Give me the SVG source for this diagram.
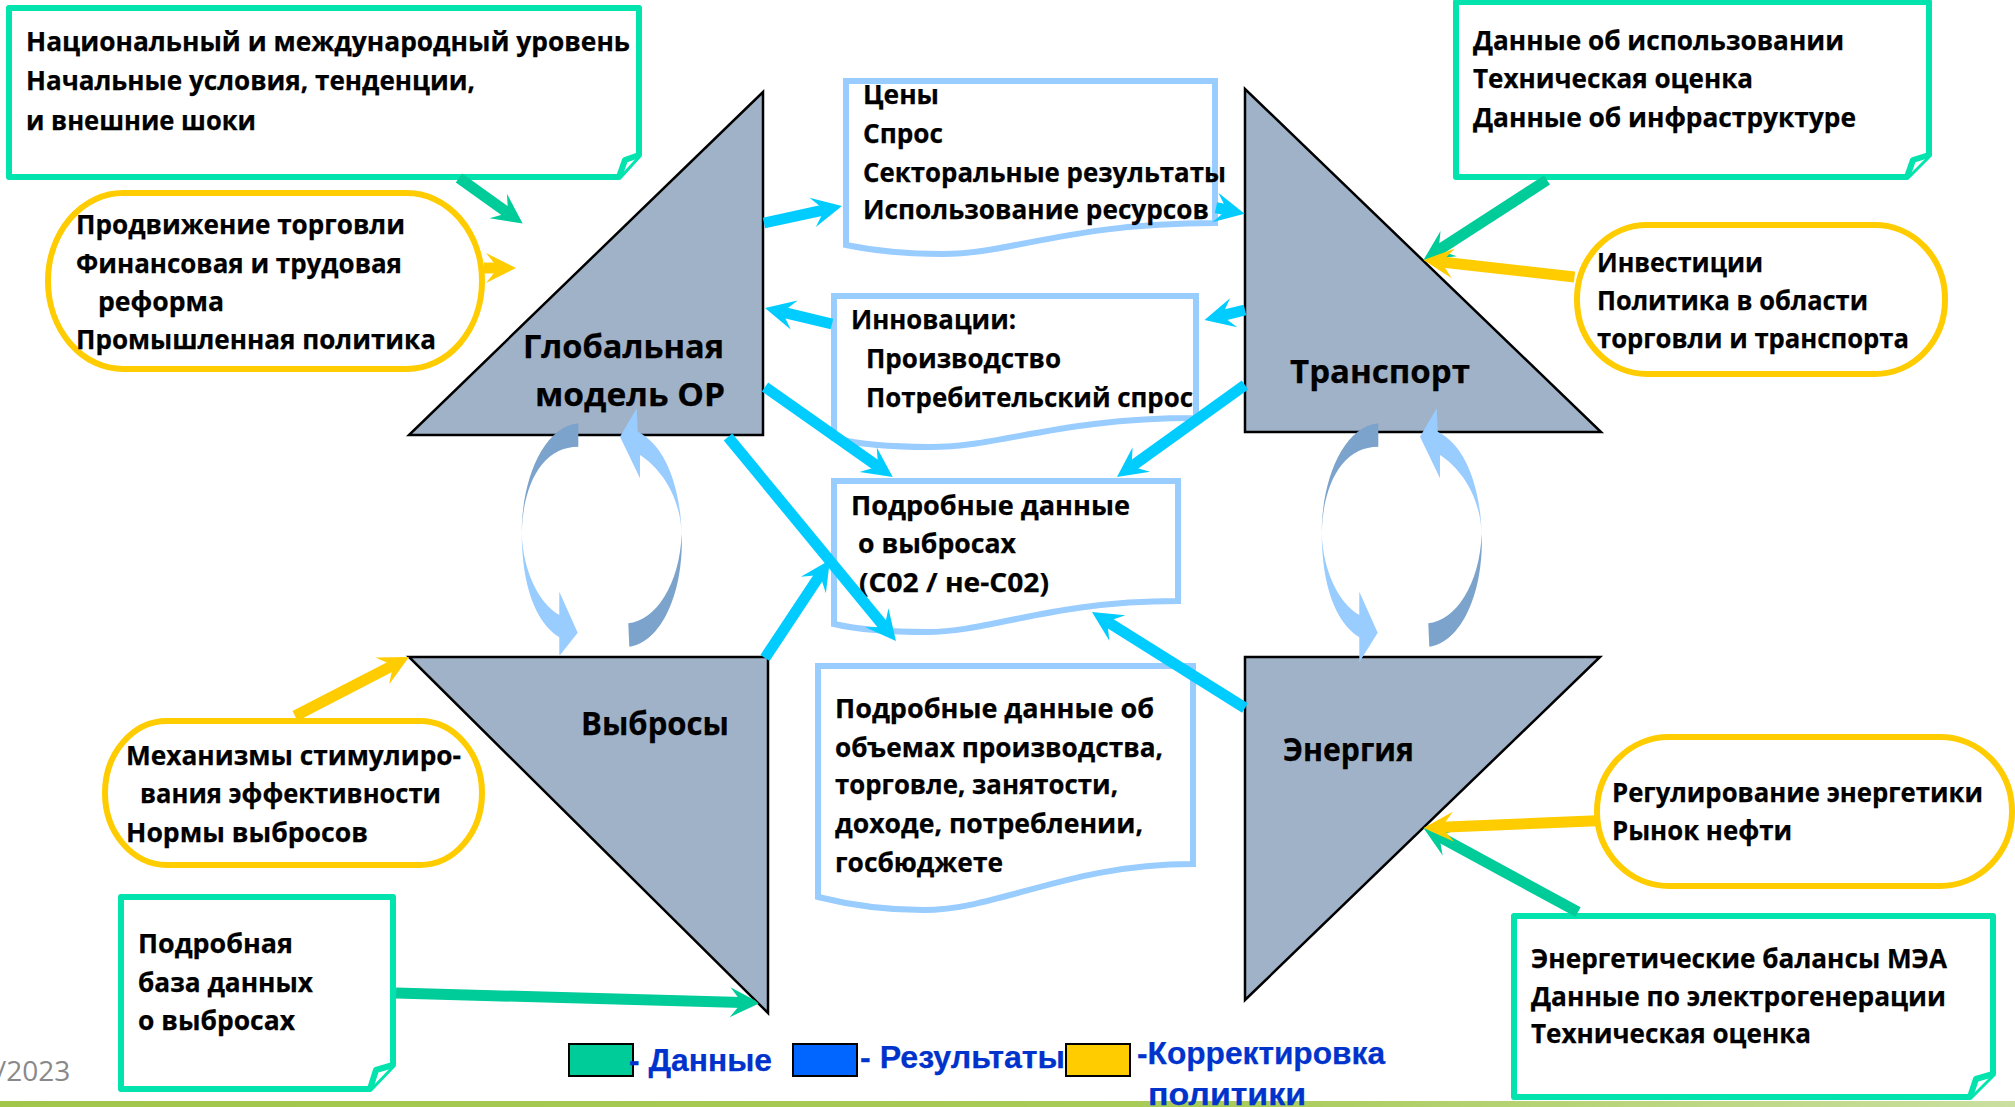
<svg xmlns="http://www.w3.org/2000/svg" width="2015" height="1107" viewBox="0 0 2015 1107">
<style>
text{font-family:"Open Sans","Noto Sans",sans-serif;font-weight:700;fill:#000;stroke:#000;stroke-width:.25}
.t{font-size:27px}
.h{font-size:32px}
.lg{font-family:"Liberation Sans",Arial,sans-serif;font-size:32px;fill:#0033CC;stroke:#0033CC}
.date{font-family:"Open Sans",sans-serif;font-weight:400;font-size:28px;fill:#898989;stroke:none}
.tri{fill:#A0B2C8;stroke:#000;stroke-width:2.5}
.gb{fill:#fff;stroke:#02E3AD;stroke-width:6;stroke-linejoin:round}
.yo{fill:#fff;stroke:#FFCC00;stroke-width:6}
.doc{fill:#fff;stroke:#99CCFF;stroke-width:6}
.a{fill:none;stroke-width:11}
.g{stroke:#00CC99}.y{stroke:#FFCC00}.c{stroke:#00CCFF}
.lt{fill:#99CCFF}.dk{fill:#7BA3CC}
</style>
<defs>
<marker id="mg" markerUnits="userSpaceOnUse" markerWidth="30" markerHeight="30" refX="12" refY="15" orient="auto" overflow="visible"><path d="M30,15 L0,0 L12,15 L0,30 Z" fill="#00CC99"/></marker>
<marker id="my" markerUnits="userSpaceOnUse" markerWidth="30" markerHeight="30" refX="12" refY="15" orient="auto" overflow="visible"><path d="M30,15 L0,0 L12,15 L0,30 Z" fill="#FFCC00"/></marker>
<marker id="mc" markerUnits="userSpaceOnUse" markerWidth="30" markerHeight="30" refX="12" refY="15" orient="auto" overflow="visible"><path d="M30,15 L0,0 L12,15 L0,30 Z" fill="#00CCFF"/></marker>
<linearGradient id="bar" x1="0" x2="1" y1="0" y2="0"><stop offset="0" stop-color="#A2C64A"/><stop offset="0.6" stop-color="#A9CB58"/><stop offset="1" stop-color="#CADFA0"/></linearGradient>
<clipPath id="leftOfEdge"><polygon points="300,900 654,900 768,1013 768,1040 300,1040"/></clipPath>
</defs>

<text class="date" x="-4" y="1081">/2023</text>
<rect x="0" y="1101" width="2015" height="6" fill="url(#bar)"/>

<g id="node-global"><polygon class="tri" points="763,92 763,435 409,435"/><text class="h" x="523" y="358" textLength="201" lengthAdjust="spacingAndGlyphs">Глобальная</text><text class="h" x="535" y="406" textLength="190" lengthAdjust="spacingAndGlyphs">модель ОР</text></g>
<g id="node-transport"><polygon class="tri" points="1245,89 1245,432 1601,432"/><text class="h" x="1290" y="383" textLength="180" lengthAdjust="spacingAndGlyphs">Транспорт</text></g>
<g id="node-emissions"><polygon class="tri" points="409,657 768,657 768,1013"/><text class="h" x="581" y="735" textLength="148" lengthAdjust="spacingAndGlyphs">Выбросы</text></g>
<g id="node-energy"><polygon class="tri" points="1245,657 1600,657 1245,1000"/><text class="h" x="1283" y="761" textLength="131" lengthAdjust="spacingAndGlyphs">Энергия</text></g>

<g id="box-national"><path class="gb" d="M9,8 H639 V155 L619,177 H9 Z"/><path class="gb" d="M619,177 L625,160 L639,155" fill="none"/>
<text class="t" x="26" y="51" textLength="604" lengthAdjust="spacingAndGlyphs">Национальный и международный уровень</text><text class="t" x="26" y="90" textLength="449" lengthAdjust="spacingAndGlyphs">Начальные условия, тенденции,</text><text class="t" x="26" y="130" textLength="230" lengthAdjust="spacingAndGlyphs">и внешние шоки</text></g>
<g id="box-usage"><path class="gb" d="M1456,2 H1929 V155 L1907,177 H1456 Z"/><path class="gb" d="M1907,177 L1913,160 L1929,155" fill="none"/>
<text class="t" x="1473" y="50" textLength="371" lengthAdjust="spacingAndGlyphs">Данные об использовании</text><text class="t" x="1473" y="88" textLength="280" lengthAdjust="spacingAndGlyphs">Техническая оценка</text><text class="t" x="1473" y="127" textLength="383" lengthAdjust="spacingAndGlyphs">Данные об инфраструктуре</text></g>
<g id="box-emdb"><path class="gb" d="M121,897 H393 V1065 L370,1089 H121 Z"/><path class="gb" d="M370,1089 L376,1070 L393,1065" fill="none"/>
<text class="t" x="138" y="953" textLength="155" lengthAdjust="spacingAndGlyphs">Подробная</text><text class="t" x="138" y="992" textLength="175" lengthAdjust="spacingAndGlyphs">база данных</text><text class="t" x="138" y="1030" textLength="157" lengthAdjust="spacingAndGlyphs">о выбросах</text></g>
<g id="box-energy-data"><path class="gb" d="M1514,916 H1993 V1074 L1970,1097 H1514 Z"/><path class="gb" d="M1970,1097 L1976,1079 L1993,1074" fill="none"/>
<text class="t" x="1531" y="968" textLength="416" lengthAdjust="spacingAndGlyphs">Энергетические балансы МЭА</text><text class="t" x="1531" y="1006" textLength="415" lengthAdjust="spacingAndGlyphs">Данные по электрогенерации</text><text class="t" x="1531" y="1043" textLength="280" lengthAdjust="spacingAndGlyphs">Техническая оценка</text></g>

<g id="oval-trade"><rect class="yo" x="48" y="193" width="434" height="176" rx="75" ry="88"/>
<text class="t" x="76" y="234" textLength="329" lengthAdjust="spacingAndGlyphs">Продвижение торговли</text><text class="t" x="76" y="273" textLength="326" lengthAdjust="spacingAndGlyphs">Финансовая и трудовая</text><text class="t" x="98" y="311" textLength="126" lengthAdjust="spacingAndGlyphs">реформа</text><text class="t" x="76" y="349" textLength="360" lengthAdjust="spacingAndGlyphs">Промышленная политика</text></g>
<g id="oval-invest"><rect class="yo" x="1577" y="225" width="368" height="149" rx="70" ry="74"/>
<text class="t" x="1597" y="272" textLength="166" lengthAdjust="spacingAndGlyphs">Инвестиции</text><text class="t" x="1597" y="310" textLength="271" lengthAdjust="spacingAndGlyphs">Политика в области</text><text class="t" x="1597" y="348" textLength="312" lengthAdjust="spacingAndGlyphs">торговли и транспорта</text></g>
<g id="oval-incentive"><rect class="yo" x="105" y="721" width="377" height="144" rx="62" ry="72"/>
<text class="t" x="126" y="765" textLength="335" lengthAdjust="spacingAndGlyphs">Механизмы стимулиро-</text><text class="t" x="140" y="803" textLength="301" lengthAdjust="spacingAndGlyphs">вания эффективности</text><text class="t" x="126" y="842" textLength="242" lengthAdjust="spacingAndGlyphs">Нормы выбросов</text></g>
<g id="oval-energy-reg"><rect class="yo" x="1597" y="737" width="415" height="149" rx="72" ry="74"/>
<text class="t" x="1612" y="802" textLength="371" lengthAdjust="spacingAndGlyphs">Регулирование энергетики</text><text class="t" x="1612" y="840" textLength="180" lengthAdjust="spacingAndGlyphs">Рынок нефти</text></g>

<g id="doc-prices"><path class="doc" d="M846,81 H1215 V223 C1070,223 1010,254 943,254 C910,254 880,252 846,245 Z"/>
<text class="t" x="863" y="104" textLength="76" lengthAdjust="spacingAndGlyphs">Цены</text><text class="t" x="863" y="143" textLength="80" lengthAdjust="spacingAndGlyphs">Спрос</text><text class="t" x="863" y="182" textLength="363" lengthAdjust="spacingAndGlyphs">Секторальные результаты</text><text class="t" x="863" y="219" textLength="346" lengthAdjust="spacingAndGlyphs">Использование ресурсов</text></g>
<g id="doc-innovation"><path class="doc" d="M834,296 H1196 V418 C1060,418 1000,447 931,447 C895,447 860,445 834,438 Z"/>
<text class="t" x="851" y="329" textLength="165" lengthAdjust="spacingAndGlyphs">Инновации:</text><text class="t" x="866" y="368" textLength="195" lengthAdjust="spacingAndGlyphs">Производство</text><text class="t" x="866" y="407" textLength="327" lengthAdjust="spacingAndGlyphs">Потребительский спрос</text></g>
<g id="doc-emissions"><path class="doc" d="M834,481 H1178 V601 C1050,601 990,632 927,632 C890,632 860,630 834,624 Z"/>
<text class="t" x="851" y="515" textLength="279" lengthAdjust="spacingAndGlyphs">Подробные данные</text><text class="t" x="858" y="553" textLength="158" lengthAdjust="spacingAndGlyphs">о выбросах</text><text class="t" x="859" y="592" textLength="190" lengthAdjust="spacingAndGlyphs">(С02 / не-С02)</text></g>
<g id="doc-production"><path class="doc" d="M818,666 H1193 V864 C1067,864 1000,910 923,910 C885,910 850,905 818,897 Z"/>
<text class="t" x="835" y="718" textLength="319" lengthAdjust="spacingAndGlyphs">Подробные данные об</text><text class="t" x="835" y="757" textLength="328" lengthAdjust="spacingAndGlyphs">объемах производства,</text><text class="t" x="835" y="794" textLength="283" lengthAdjust="spacingAndGlyphs">торговле, занятости,</text><text class="t" x="835" y="833" textLength="308" lengthAdjust="spacingAndGlyphs">доходе, потреблении,</text><text class="t" x="835" y="872" textLength="168" lengthAdjust="spacingAndGlyphs">госбюджете</text></g>

<g id="legend">
<rect x="569" y="1044" width="64" height="32" fill="#00CC99" stroke="#000" stroke-width="2"/>
<rect x="793" y="1044" width="64" height="32" fill="#0066FF" stroke="#000" stroke-width="2"/>
<rect x="1066" y="1044" width="64" height="32" fill="#FFCC00" stroke="#000" stroke-width="2"/>
<text class="lg" x="629" y="1071" textLength="143" lengthAdjust="spacingAndGlyphs">- Данные</text><text class="lg" x="860" y="1068" textLength="205" lengthAdjust="spacingAndGlyphs">- Результаты</text><text class="lg" x="1137" y="1064" textLength="248" lengthAdjust="spacingAndGlyphs">-Корректировка</text><text class="lg" x="1148" y="1105" textLength="158" lengthAdjust="spacingAndGlyphs">политики</text>
</g>

<g id="loops">
<g id="loop-left">
<path class="dk" d="M578.3,423.3 C543,427 521.7,480 521.7,533.3 C523,483 543,446.7 578.3,446.7 Z"/>
<path class="lt" d="M521.7,533.3 C522,585 535,622 559.3,637.3 L559.3,656 L577.7,632.7 L559.3,591.7 L559.3,615 C538,603 523,570 521.7,533.3 Z"/>
<path class="lt" d="M636.7,408.3 L620,436.7 L640,478.3 L640,455 C660,468 680,495 681.7,533.3 C680,485 665,445 637.7,431.7 Z"/>
<path class="dk" d="M628.3,623.3 C655,621 680,585 681.7,533.3 C684,595 660,643 629.3,646.7 Z"/>
</g>
<g id="loop-right" transform="translate(800 0)">
<path class="dk" d="M578.3,423.3 C543,427 521.7,480 521.7,533.3 C523,483 543,446.7 578.3,446.7 Z"/>
<path class="lt" d="M521.7,533.3 C522,585 535,622 559.3,637.3 L559.3,662.3 L577.7,632.7 L559.3,591.7 L559.3,615 C538,603 523,570 521.7,533.3 Z"/>
<path class="lt" d="M636.7,408.3 L620,436.7 L640,478.3 L640,455 C660,468 680,495 681.7,533.3 C680,485 665,445 637.7,431.7 Z"/>
<path class="dk" d="M628.3,623.3 C655,621 680,585 681.7,533.3 C684,595 660,643 629.3,646.7 Z"/>
</g>
</g>

<g id="connectors">
<path class="a g" d="M459,178 L508,213" marker-end="url(#mg)"/>
<path class="a g" d="M1547,180 L1438.6,250.2" marker-end="url(#mg)"/>
<path class="a g" d="M1578,912 L1439.3,836.6" marker-end="url(#mg)"/>
<path class="a g" d="M396,993 L742,1002.5" marker-end="url(#mg)" clip-path="url(#leftOfEdge)"/>
<path class="a y" d="M484,268 L498,268" marker-end="url(#my)"/>
<path class="a y" d="M1574.5,277 L1441.4,262" marker-end="url(#my)"/>
<path class="a y" d="M1597,820.7 L1441.5,827.3" marker-end="url(#my)"/>
<path class="a y" d="M295,716 L393,665.3" marker-end="url(#my)"/>
<path class="a c" d="M764,223 L824.4,209.8" marker-end="url(#mc)"/>
<path class="a c" d="M1216,207.7 L1227,210" marker-end="url(#mc)"/>
<path class="a c" d="M832,324 L782.5,312.2" marker-end="url(#mc)"/>
<path class="a c" d="M1245,310 L1222,315.7" marker-end="url(#mc)"/>
<path class="a c" d="M765,387 L878,466.6" marker-end="url(#mc)"/>
<path class="a c" d="M1245,385 L1131.6,466.5" marker-end="url(#mc)"/>
<path class="a c" d="M728,437 L884.5,627" marker-end="url(#mc)"/>
<path class="a c" d="M765,658 L820,575" marker-end="url(#mc)"/>
<path class="a c" d="M1245,708 L1107.2,621.6" marker-end="url(#mc)"/>
</g>
</svg>
